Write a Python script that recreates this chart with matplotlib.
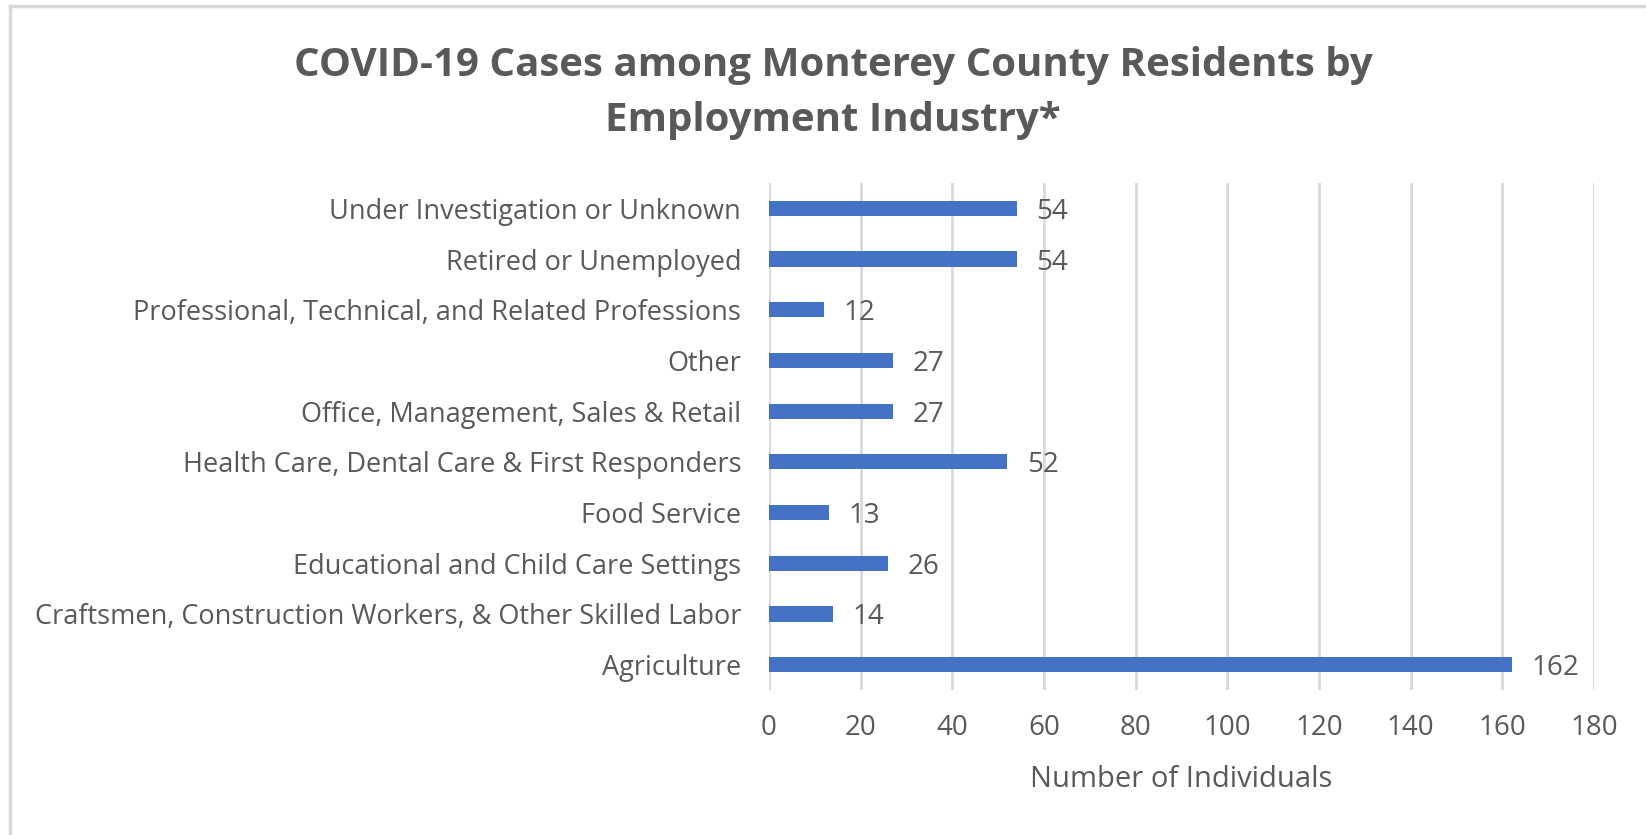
import matplotlib
matplotlib.use("Agg")
import matplotlib.pyplot as plt
from matplotlib.lines import Line2D

plt.rcParams["font.family"] = ["Open Sans", "DejaVu Sans"]

TITLE = "COVID-19 Cases among Monterey County Residents by\nEmployment Industry*"
categories = [
    "Agriculture",
    "Craftsmen, Construction Workers, & Other Skilled Labor",
    "Educational and Child Care Settings",
    "Food Service",
    "Health Care, Dental Care & First Responders",
    "Office, Management, Sales & Retail",
    "Other",
    "Professional, Technical, and Related Professions",
    "Retired or Unemployed",
    "Under Investigation or Unknown",
]
counts = [162, 14, 26, 13, 52, 27, 27, 12, 54, 54]
x_ticks = [0, 20, 40, 60, 80, 100, 120, 140, 160, 180]

TEXT = "#595959"
BAR = "#4472C4"
GRID = "#D9D9D9"

fig = plt.figure(figsize=(16.46, 8.35), dpi=100)
ax = fig.add_axes([769 / 1646, 145 / 835, (1594 - 769) / 1646, (690 - 183) / 835])

y = range(len(categories))
ax.barh(y, counts, height=0.3, color=BAR, zorder=3)
for yi, v in zip(y, counts):
    ax.annotate(str(v), (v, yi), xytext=(14, 0), textcoords="offset points",
                ha="left", va="center_baseline", fontsize=20, color=TEXT)

ax.set_xlim(0, 180)
ax.set_ylim(-0.5, len(categories) - 0.5)
ax.set_xticks(x_ticks)
ax.set_yticks(list(y))
ax.set_yticklabels(categories)
ax.tick_params(axis="both", length=0, labelsize=19.5, labelcolor=TEXT)
ax.tick_params(axis="x", labelsize=20, pad=17)
ax.tick_params(axis="y", pad=20)
ax.xaxis.grid(True, color=GRID, lw=2, zorder=0)
for s in ax.spines.values():
    s.set_visible(False)
ax.set_xlabel("Number of Individuals", fontsize=21, color=TEXT, labelpad=17)

fig.text(833 / 1646, 1 - 93 / 835, TITLE, ha="center", va="center", fontsize=29,
         fontweight="bold", color=TEXT, linespacing=1.55)

# chart frame, only top and left edges are visible in the crop
fig.add_artist(Line2D([9.5 / 1646, 1], [1 - 5.5 / 835] * 2, color="#D9D9D9", lw=2.5))
fig.add_artist(Line2D([9.5 / 1646] * 2, [0, 1 - 5.5 / 835], color="#D9D9D9", lw=2.5))

fig.savefig("out.png", facecolor="white")
